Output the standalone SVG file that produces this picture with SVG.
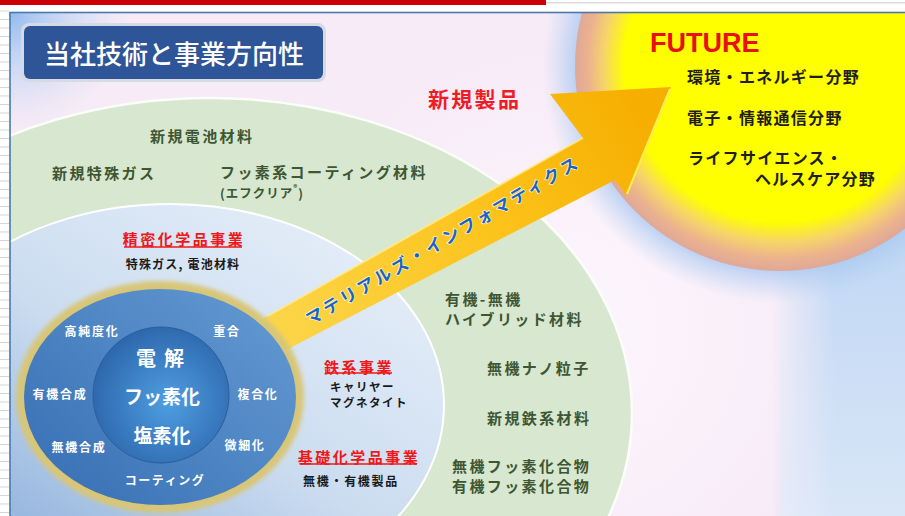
<svg xmlns="http://www.w3.org/2000/svg" width="905" height="516" viewBox="0 0 905 516">
<defs>
<style>
text{font-family:"Noto Sans CJK JP","Noto Sans",sans-serif;}
.g{fill:#3d5633;font-size:15px;font-weight:700;letter-spacing:2.4px;dominant-baseline:central;}
.w{fill:#ffffff;font-size:12px;font-weight:700;letter-spacing:1.7px;dominant-baseline:central;text-anchor:middle;}
.core{fill:#ffffff;font-size:19px;font-weight:700;dominant-baseline:central;text-anchor:middle;}
.biz{fill:#f01818;font-size:15px;font-weight:700;letter-spacing:2.5px;dominant-baseline:central;text-anchor:middle;}
.sub{fill:#1a1a1a;font-size:12px;font-weight:700;letter-spacing:1.5px;dominant-baseline:central;}
.sun{fill:#1e1e1e;font-size:16px;font-weight:700;letter-spacing:1.3px;dominant-baseline:central;}
.ul{stroke:#f01818;stroke-width:1.3;}
</style>
<pattern id="rule" x="0" y="10.5" width="9" height="8.5" patternUnits="userSpaceOnUse">
<rect x="0" y="0" width="9" height="1" fill="#d4d4d4"/>
</pattern>
<clipPath id="panelClip"><rect x="10" y="13" width="895" height="503"/></clipPath>
<radialGradient id="centerGlow" gradientUnits="userSpaceOnUse" cx="560" cy="330" r="280">
<stop offset="0" stop-color="#fef8fe" stop-opacity="0.9"/>
<stop offset="1" stop-color="#fef8fe" stop-opacity="0"/>
</radialGradient>
<radialGradient id="cornerG" gradientUnits="userSpaceOnUse" cx="10" cy="12" r="120">
<stop offset="0" stop-color="#92baee" stop-opacity="1"/>
<stop offset="0.45" stop-color="#b2cdf2" stop-opacity="0.6"/>
<stop offset="1" stop-color="#c8daf4" stop-opacity="0"/>
</radialGradient>
<linearGradient id="rightG" gradientUnits="userSpaceOnUse" x1="772" y1="0" x2="835" y2="0">
<stop offset="0" stop-color="#c2d8f4" stop-opacity="0"/>
<stop offset="1" stop-color="#c2d8f4" stop-opacity="1"/>
</linearGradient>
<linearGradient id="rightV" gradientUnits="userSpaceOnUse" x1="0" y1="250" x2="0" y2="516">
<stop offset="0" stop-color="#e2ecf9" stop-opacity="0"/>
<stop offset="1" stop-color="#e2ecf9" stop-opacity="0.7"/>
</linearGradient>
<radialGradient id="haloG" gradientUnits="userSpaceOnUse" cx="780" cy="66" r="250">
<stop offset="0.8" stop-color="#a6c6f0" stop-opacity="0.85"/>
<stop offset="0.95" stop-color="#b8d2f2" stop-opacity="0"/>
</radialGradient>
<radialGradient id="sunG" gradientUnits="userSpaceOnUse" cx="780" cy="66" r="205">
<stop offset="0" stop-color="#ffff00"/>
<stop offset="0.76" stop-color="#ffff00"/>
<stop offset="0.86" stop-color="#f6d46a"/>
<stop offset="0.94" stop-color="#ebb28e"/>
<stop offset="1" stop-color="#dfa898"/>
</radialGradient>
<linearGradient id="blueG" x1="0.85" y1="0.1" x2="0.1" y2="0.95">
<stop offset="0" stop-color="#e4edf8"/>
<stop offset="0.45" stop-color="#cbdcf0"/>
<stop offset="1" stop-color="#7fa6d6"/>
</linearGradient>
<linearGradient id="midG" x1="0.9" y1="0.2" x2="0.1" y2="0.9">
<stop offset="0" stop-color="#5e95cf"/>
<stop offset="1" stop-color="#3b72b6"/>
</linearGradient>
<radialGradient id="coreG" cx="0.55" cy="0.55" r="0.6">
<stop offset="0" stop-color="#4f9ee3"/>
<stop offset="1" stop-color="#2c64a8"/>
</radialGradient>
<linearGradient id="arrowG" gradientUnits="userSpaceOnUse" x1="270" y1="340" x2="650" y2="120">
<stop offset="0" stop-color="#fbd64a"/>
<stop offset="0.6" stop-color="#fcc21a"/>
<stop offset="1" stop-color="#f6ae00"/>
</linearGradient>
<filter id="blur2" x="-10%" y="-10%" width="120%" height="120%"><feGaussianBlur stdDeviation="2.2"/></filter>
</defs>

<!-- page frame -->
<rect x="0" y="0" width="905" height="516" fill="#ffffff"/>
<rect x="0" y="0" width="546" height="5" fill="#cc0000"/>
<rect x="546" y="2" width="359" height="1.5" fill="#dcdcdc"/>
<rect x="0" y="10" width="9" height="506" fill="url(#rule)"/>

<!-- panel background -->
<g id="background" clip-path="url(#panelClip)">
<rect x="10" y="13" width="895" height="503" fill="#f7ebf7"/>
<rect x="10" y="13" width="895" height="503" fill="url(#centerGlow)"/>
<rect x="10" y="13" width="200" height="150" fill="url(#cornerG)"/>
<rect x="740" y="13" width="165" height="503" fill="url(#rightG)"/>
<rect x="780" y="250" width="125" height="266" fill="url(#rightV)"/>
</g>

<g id="outer-ring" clip-path="url(#panelClip)">
<ellipse cx="210" cy="413" rx="422" ry="315" fill="#d8e7cf" stroke="#fbfdf8" stroke-width="2.5"/>
<text class="g" x="150" y="135">新規電池材料</text>
<text class="g" x="52" y="172">新規特殊ガス</text>
<text class="g" x="220" y="171">フッ素系コーティング材料</text>
<text x="220" y="192" style="fill:#3d5633;font-size:12.5px;font-weight:600;letter-spacing:1px;dominant-baseline:central;">(エフクリア<tspan font-size="8" baseline-shift="5">®</tspan>)</text>
<text class="g" x="445" y="298">有機-無機</text>
<text class="g" x="445" y="318">ハイブリッド材料</text>
<text class="g" x="487" y="367">無機ナノ粒子</text>
<text class="g" x="487" y="417">新規鉄系材料</text>
<text class="g" x="452" y="465">無機フッ素化合物</text>
<text class="g" x="452" y="485">有機フッ素化合物</text>
</g>

<g id="business-ring" clip-path="url(#panelClip)">
<ellipse cx="170" cy="405" rx="274" ry="201" fill="url(#blueG)" stroke="#ffffff" stroke-width="2"/>
<text class="biz" x="184" y="238">精密化学品事業</text>
<line class="ul" x1="124" y1="247" x2="242" y2="247"/>
<text class="sub" x="183" y="263" text-anchor="middle" style="letter-spacing:1.2px">特殊ガス, 電池材料</text>
<text class="biz" x="359" y="366">鉄系事業</text>
<line class="ul" x1="325" y1="373" x2="392" y2="373"/>
<text class="sub" x="330" y="386" style="font-size:11.5px">キャリヤー</text>
<text class="sub" x="330" y="402" style="font-size:11.5px">マグネタイト</text>
<text class="biz" x="359" y="456">基礎化学品事業</text>
<line class="ul" x1="300" y1="464" x2="417" y2="464"/>
<text class="sub" x="351" y="480" text-anchor="middle" style="letter-spacing:1.7px">無機・有機製品</text>
</g>

<g id="future">
<circle cx="780" cy="66" r="250" fill="url(#haloG)" clip-path="url(#panelClip)"/>
<circle cx="780" cy="66" r="205" fill="url(#sunG)" clip-path="url(#panelClip)"/>
<text x="650" y="52" style="font-family:'Liberation Sans',Arial,sans-serif;font-size:27px;font-weight:700;fill:#e81010;">FUTURE</text>
<text class="sun" x="687" y="76">環境・エネルギー分野</text>
<text class="sun" x="687" y="117">電子・情報通信分野</text>
<text class="sun" x="688" y="157">ライフサイエンス・</text>
<text class="sun" x="755" y="178">ヘルスケア分野</text>
</g>

<g id="new-products">
<text x="428" y="98" style="fill:#ee1c24;font-size:21px;font-weight:700;letter-spacing:2.3px;dominant-baseline:central;">新規製品</text>
</g>

<g id="connectors">
<path d="M240,332 L583,138 L550,94 L671,87 L627,196 L615,180 L255,366 Z" fill="url(#arrowG)"/>
<line x1="268" y1="316" x2="583" y2="138" stroke="#ffeb8a" stroke-width="2" opacity="0.8"/>
<line x1="670" y1="89" x2="627" y2="194" stroke="#fff050" stroke-width="2"/>
<text transform="translate(441,240) rotate(-30.5)" x="1.4" y="0" text-anchor="middle" style="fill:#1a62c6;font-size:17px;font-weight:700;letter-spacing:2.8px;dominant-baseline:central;stroke:#fff6c8;stroke-width:1.5;paint-order:stroke;">マテリアルズ・インフォマティクス</text>
</g>

<g id="core-technology">
<ellipse cx="160" cy="397" rx="144" ry="116" fill="#d8c678" filter="url(#blur2)"/>
<ellipse cx="160" cy="397" rx="136" ry="108" fill="url(#midG)"/>
<circle cx="161" cy="395" r="68" fill="url(#coreG)" stroke="#2b5e9e" stroke-width="1"/>
<text class="w" x="92" y="330">高純度化</text>
<text class="w" x="227" y="330">重合</text>
<text class="w" x="60" y="393">有機合成</text>
<text class="w" x="258" y="393">複合化</text>
<text class="w" x="79" y="446">無機合成</text>
<text class="w" x="245" y="444">微細化</text>
<text class="w" x="165" y="479" style="letter-spacing:1.5px">コーティング</text>
<text class="core" x="164" y="357" style="letter-spacing:8px;font-size:20px">電解</text>
<text class="core" x="162" y="395">フッ素化</text>
<text class="core" x="162" y="434">塩素化</text>
</g>

<g id="title">
<rect x="21" y="23" width="305" height="59" rx="8" fill="#d6dae2"/>
<rect x="24" y="26" width="299" height="53" rx="6" fill="#2d5597"/>
<text x="174" y="52" text-anchor="middle" style="fill:#ffffff;font-size:26px;font-weight:500;dominant-baseline:central;">当社技術と事業方向性</text>
</g>

<rect x="10" y="12.5" width="896" height="505" fill="none" stroke="#4b78a9" stroke-width="1.6"/>
</svg>
